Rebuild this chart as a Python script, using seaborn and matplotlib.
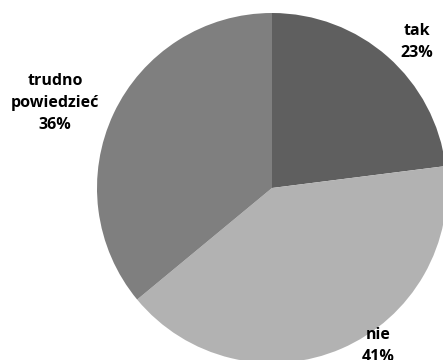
import matplotlib
matplotlib.use("Agg")
import matplotlib.pyplot as plt
import seaborn as sns

categories = ["tak", "nie", "trudno\npowiedzieć"]
values = [23, 41, 36]
colors = ["#5f5f5f", "#b2b2b2", "#7f7f7f"]
# label anchor positions in pixels (x from left, y from top)
label_pos = [(417, 42), (378, 346), (55, 103)]

sns.set_theme(style="white")
plt.rcParams['font.family'] = ['Open Sans', 'DejaVu Sans']

W, H = 443, 360
fig = plt.figure(figsize=(W / 100, H / 100), dpi=100)
ax = fig.add_axes([0, 0, 1, 1])

cx, cy, r = 272, H - 188, 175
wedges, _ = ax.pie(values, colors=colors, startangle=90, counterclock=False,
                   center=(cx, cy), radius=r, frame=True,
                   wedgeprops=dict(linewidth=0))
ax.set_xlim(0, W)
ax.set_ylim(0, H)
ax.set_aspect("equal")
ax.axis("off")
for w in wedges:
    w.set_clip_on(True)
    w.set_clip_path(ax.patch)

for cat, v, (px, py) in zip(categories, values, label_pos):
    ax.text(px, H - py, f"{cat}\n{v}%", ha="center", va="center",
            fontsize=11.5, fontweight="bold", color="black", linespacing=1.5)

fig.savefig("out.png", dpi=100)
